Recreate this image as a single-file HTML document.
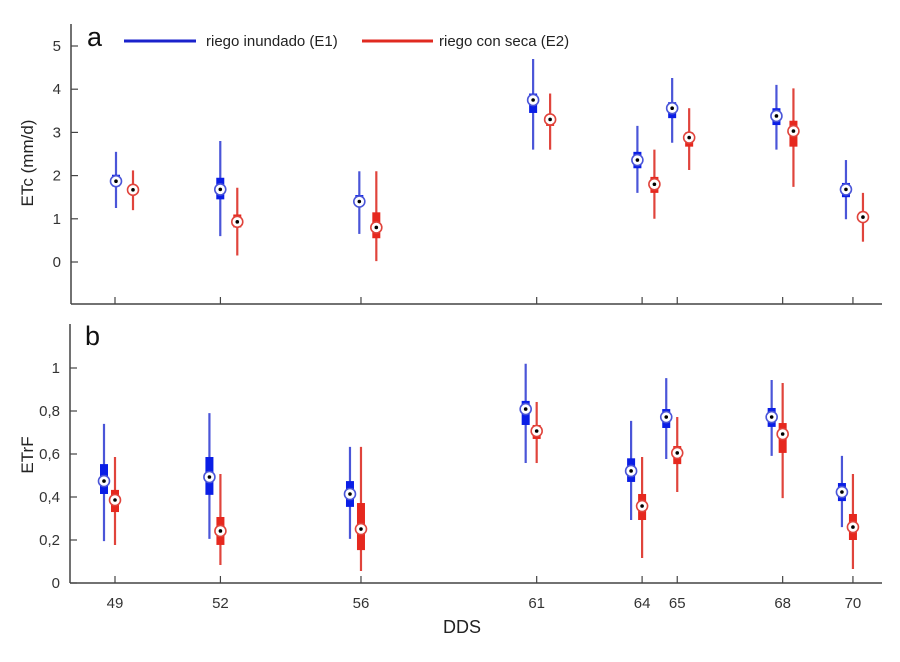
<!DOCTYPE html>
<html><head><meta charset="utf-8"><style>
html,body{margin:0;padding:0;background:#fff;}
svg{display:block;font-family:"Liberation Sans",Arial,sans-serif;}
</style></head><body>
<svg id="chart" width="900" height="662" viewBox="0 0 900 662" xmlns="http://www.w3.org/2000/svg">
<g id="axes"></g>
<g id="marks"></g>
<g>
  <line x1="124" y1="41" x2="196" y2="41" stroke="#1a22cc" stroke-width="3"/>
  <text x="206" y="46" font-size="15" fill="#222">riego inundado (E1)</text>
  <line x1="362" y1="41" x2="433" y2="41" stroke="#e02a20" stroke-width="3"/>
  <text x="439" y="46" font-size="15" fill="#222">riego con seca (E2)</text>
</g>
<text x="87" y="46" font-size="27" fill="#111">a</text>
<text x="85" y="345" font-size="27" fill="#111">b</text>
<text transform="translate(33,163) rotate(-90)" text-anchor="middle" font-size="17" fill="#222">ETc (mm/d)</text>
<text transform="translate(33,455) rotate(-90)" text-anchor="middle" font-size="17" fill="#222">ETrF</text>
<text x="462" y="633" text-anchor="middle" font-size="18" fill="#222">DDS</text>
</svg>
<script>
const dds = [49, 52, 56, 61, 64, 65, 68, 70];
// Top panel ETc: [whiskerLow, q1, median, q3, whiskerHigh]
const etcE1Low  = [1.25, 0.6, 0.65, 2.6, 1.6, 2.76, 2.6, 0.99];
const etcE1Q1   = [1.75, 1.45, 1.3, 3.45, 2.17, 3.33, 3.17, 1.5];
const etcE1Med  = [1.87, 1.68, 1.4, 3.75, 2.36, 3.56, 3.38, 1.68];
const etcE1Q3   = [2.02, 1.95, 1.55, 3.9, 2.55, 3.7, 3.56, 1.83];
const etcE1High = [2.55, 2.8, 2.1, 4.7, 3.15, 4.26, 4.1, 2.36];
const etcE2Low  = [1.2, 0.15, 0.02, 2.6, 1.0, 2.13, 1.74, 0.47];
const etcE2Q1   = [1.6, 0.8, 0.55, 3.15, 1.6, 2.67, 2.67, 0.93];
const etcE2Med  = [1.67, 0.93, 0.8, 3.3, 1.8, 2.88, 3.03, 1.04];
const etcE2Q3   = [1.75, 1.1, 1.15, 3.4, 1.97, 3.0, 3.27, 1.16];
const etcE2High = [2.12, 1.72, 2.1, 3.9, 2.6, 3.56, 4.02, 1.6];
// Bottom panel ETrF
const etrfE1Low  = [0.195, 0.205, 0.205, 0.558, 0.293, 0.577, 0.591, 0.26];
const etrfE1Q1   = [0.414, 0.41, 0.354, 0.735, 0.47, 0.721, 0.726, 0.381];
const etrfE1Med  = [0.474, 0.493, 0.414, 0.809, 0.521, 0.772, 0.772, 0.423];
const etrfE1Q3   = [0.553, 0.586, 0.474, 0.847, 0.58, 0.809, 0.814, 0.465];
const etrfE1High = [0.74, 0.79, 0.633, 1.02, 0.754, 0.953, 0.944, 0.591];
const etrfE2Low  = [0.177, 0.084, 0.056, 0.558, 0.116, 0.423, 0.395, 0.065];
const etrfE2Q1   = [0.33, 0.177, 0.153, 0.67, 0.293, 0.553, 0.605, 0.2];
const etrfE2Med  = [0.386, 0.242, 0.251, 0.707, 0.358, 0.605, 0.693, 0.26];
const etrfE2Q3   = [0.433, 0.307, 0.372, 0.735, 0.414, 0.637, 0.744, 0.321];
const etrfE2High = [0.586, 0.507, 0.633, 0.842, 0.586, 0.772, 0.93, 0.507];
const etcTicks = [0, 1, 2, 3, 4, 5];
const etcTickLabels = ["0", "1", "2", "3", "4", "5"];
const etrfTicks = [0, 0.2, 0.4, 0.6, 0.8, 1];
const etrfTickLabels = ["0", "0,2", "0,4", "0,6", "0,8", "1"];

const NS = "http://www.w3.org/2000/svg";
const axesG = document.getElementById('axes');
const marksG = document.getElementById('marks');
function mk(tag, attrs, parent) {
  const e = document.createElementNS(NS, tag);
  for (const k in attrs) e.setAttribute(k, attrs[k]);
  parent.appendChild(e);
  return e;
}
const xScale = d => 115 + (d - 49) * 35.14;
const xTopMarks = d => 116 + (d - 49) * 34.76;
const yTop = v => 262 - v * 43.2;
const yBot = v => 583 - v * 215;

function drawAxes(name, x0, yTopPx, yAxisPx, ticks, labels, yS) {
  const ax = mk('line', {x1: x0, y1: yTopPx, x2: x0, y2: yAxisPx, stroke: '#444', 'stroke-width': 1.5}, axesG);
  
  
  const bx = mk('line', {x1: x0, y1: yAxisPx, x2: 882, y2: yAxisPx, stroke: '#444', 'stroke-width': 1.5}, axesG);
  
  
  ticks.forEach((t, i) => {
    const y = yS(t);
    const tl = mk('line', {x1: x0, y1: y, x2: x0 + 7, y2: y, stroke: '#444', 'stroke-width': 1.2}, axesG);
    
    
    const tx = mk('text', {x: x0 - 10, y: y + 5, 'text-anchor': 'end', 'font-size': 15, fill: '#333'}, axesG);
    tx.textContent = labels[i];
    
    
  });
  dds.forEach(d => {
    const x = xScale(d);
    const tl = mk('line', {x1: x, y1: yAxisPx, x2: x, y2: yAxisPx - 7, stroke: '#444', 'stroke-width': 1.2}, axesG);
    
    
  });
}
drawAxes('top', 71, 24, 304, etcTicks, etcTickLabels, yTop);
drawAxes('bottom', 70, 324, 583, etrfTicks, etrfTickLabels, yBot);
dds.forEach(d => {
  const tx = mk('text', {x: xScale(d), y: 608, 'text-anchor': 'middle', 'font-size': 15, fill: '#333'}, axesG);
  tx.textContent = String(d);
  
  
});

function drawBox(name, x, lo, q1, med, q3, hi, yS, whisk, boxC) {
  const g = mk('g', {}, marksG);
  
  
  mk('line', {x1: x, y1: yS(lo), x2: x, y2: yS(hi), stroke: whisk, 'stroke-width': 2.2}, g);
  mk('rect', {x: x - 4, y: yS(q3), width: 8, height: Math.max(1, yS(q1) - yS(q3)), fill: boxC}, g);
  mk('circle', {cx: x, cy: yS(med), r: 5.5, fill: '#fff', stroke: whisk, 'stroke-width': 1.6}, g);
  mk('circle', {cx: x, cy: yS(med), r: 1.8, fill: '#000'}, g);
}
const BW = '#4a55d8', BB = '#0a1ee6', RW = '#e0443c', RB = '#e6281e';
dds.forEach((d, i) => {
  const x = xScale(d);
  const xt = xTopMarks(d);
  drawBox('etc-e1-box-' + d, xt, etcE1Low[i], etcE1Q1[i], etcE1Med[i], etcE1Q3[i], etcE1High[i], yTop, BW, BB);
  drawBox('etc-e2-box-' + d, xt + 17, etcE2Low[i], etcE2Q1[i], etcE2Med[i], etcE2Q3[i], etcE2High[i], yTop, RW, RB);
  drawBox('etrf-e1-box-' + d, x - 11, etrfE1Low[i], etrfE1Q1[i], etrfE1Med[i], etrfE1Q3[i], etrfE1High[i], yBot, BW, BB);
  drawBox('etrf-e2-box-' + d, x, etrfE2Low[i], etrfE2Q1[i], etrfE2Med[i], etrfE2Q3[i], etrfE2High[i], yBot, RW, RB);
});
</script>
</body></html>
